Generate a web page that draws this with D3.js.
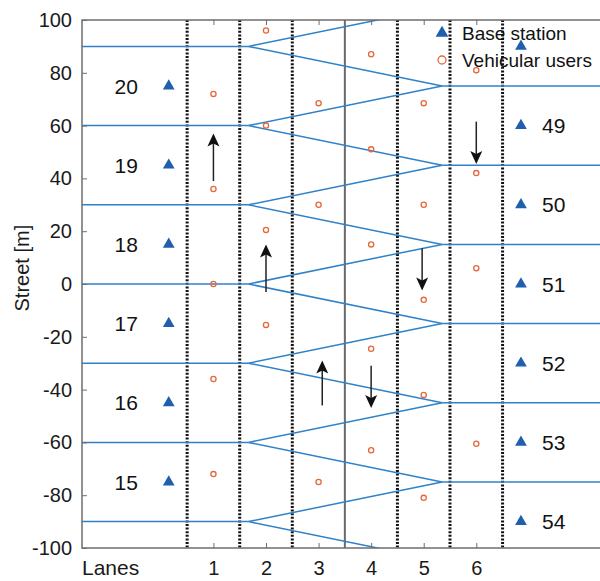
<!DOCTYPE html>
<html>
<head>
<meta charset="utf-8">
<script src="https://cdn.jsdelivr.net/npm/d3@7/dist/d3.min.js"></script>
<style>
  html, body { margin: 0; padding: 0; background: #fff; }
  svg { display: block; font-family: "Liberation Sans", Arial, sans-serif; }
</style>
</head>
<body>
<svg id="chart" width="600" height="581"></svg>
<script>
// Lane ticks along the bottom axis
const laneTicks = [1, 2, 3, 4, 5, 6];
const streetTicks = [100, 80, 60, 40, 20, 0, -20, -40, -60, -80, -100];

// Lane boundaries (dotted), and the median between the two directions (solid)
const laneBounds = [0.5, 1.5, 2.5, 4.5, 5.5, 6.5];
const medianLane = 3.5;

// Cell borders: left-side borders branch into the right-side borders
const leftBorders = [90, 60, 30, 0, -30, -60, -90];
const rightBorders = [75, 45, 15, -15, -45, -75];
const leftForkLane = 5 / 3;
const rightForkLane = 5.35;

// Base stations on each side of the road
const leftStationIds = [20, 19, 18, 17, 16, 15];
const leftStationStreet = [75, 45, 15, -15, -45, -75];
const rightStationIds = ["", 49, 50, 51, 52, 53, 54];
const rightStationStreet = [90, 60, 30, 0, -30, -60, -90];

// Vehicular users (lane, street position)
const userLane = [1, 1, 1, 1, 1,
                  2, 2, 2, 2,
                  3, 3, 3,
                  4, 4, 4, 4, 4,
                  5, 5, 5, 5, 5,
                  6, 6, 6, 6];
const userStreet = [72, 36, 0, -36, -72,
                    96, 60, 20.5, -15.5,
                    68.5, 30, -75,
                    87, 51, 15, -24.5, -63,
                    68.5, 30, -6, -42, -81,
                    81, 42, 6, -60.5];

// Driving-direction arrows
const arrowLane = [1, 2, 3.07, 4, 4.97, 6];
const arrowFrom = [39, -3, -46, -31, 13.5, 61.5];
const arrowTo = [57, 15, -29, -47, -2.5, 45.5];

const svg = d3.select("#chart");
const x = d3.scaleLinear().domain([-1.5, 9]).range([82, 634]);
const y = d3.scaleLinear().domain([-100, 100]).range([548, 20]);

const blue = "#2f82c8";
const markerBlue = "#1f5fae";
const orange = "#e4683c";
const hyphenFmt = d => String(d);

svg.append("defs").append("clipPath").attr("id", "plotClip")
  .append("rect")
  .attr("x", x(-1.5)).attr("y", y(100))
  .attr("width", x(9) - x(-1.5)).attr("height", y(-100) - y(100));

const plot = svg.append("g").attr("clip-path", "url(#plotClip)");

// Lane separators
plot.selectAll("line.lane").data(laneBounds).join("line")
  .attr("class", "lane")
  .attr("x1", d => x(d)).attr("x2", d => x(d))
  .attr("y1", y(100)).attr("y2", y(-100))
  .attr("stroke", "#111").attr("stroke-width", 3)
  .attr("stroke-dasharray", "2,1.6");

plot.append("line")
  .attr("x1", x(medianLane)).attr("x2", x(medianLane))
  .attr("y1", y(100)).attr("y2", y(-100))
  .attr("stroke", "#6a6a6a").attr("stroke-width", 2);

// Horizontal cell borders
plot.selectAll("line.lborder").data(leftBorders).join("line")
  .attr("class", "lborder")
  .attr("x1", x(-1.5)).attr("x2", x(leftForkLane))
  .attr("y1", d => y(d)).attr("y2", d => y(d))
  .attr("stroke", blue).attr("stroke-width", 1.5);

plot.selectAll("line.rborder").data(rightBorders).join("line")
  .attr("class", "rborder")
  .attr("x1", x(rightForkLane)).attr("x2", x(9))
  .attr("y1", d => y(d)).attr("y2", d => y(d))
  .attr("stroke", blue).attr("stroke-width", 1.5);

// Diagonal borders between the two sides
const diagonals = leftBorders.flatMap(v => [[v, v + 15], [v, v - 15]]);
plot.selectAll("line.diag").data(diagonals).join("line")
  .attr("class", "diag")
  .attr("x1", x(leftForkLane)).attr("x2", x(rightForkLane))
  .attr("y1", d => y(d[0])).attr("y2", d => y(d[1]))
  .attr("stroke", blue).attr("stroke-width", 1.5);

// Users
plot.selectAll("circle.user").data(userLane).join("circle")
  .attr("class", "user")
  .attr("cx", d => x(d)).attr("cy", (d, i) => y(userStreet[i]))
  .attr("r", 2.6).attr("fill", "none")
  .attr("stroke", orange).attr("stroke-width", 1.3);

// Base stations
const tri = d3.symbol().type(d3.symbolTriangle).size(60);
plot.selectAll("path.lstation").data(leftStationStreet).join("path")
  .attr("class", "lstation")
  .attr("transform", d => `translate(${x(0.15)},${y(d)})`)
  .attr("d", tri).attr("fill", markerBlue);
plot.selectAll("path.rstation").data(rightStationStreet).join("path")
  .attr("class", "rstation")
  .attr("transform", d => `translate(${x(6.85)},${y(d)})`)
  .attr("d", tri).attr("fill", markerBlue);

plot.selectAll("text.lid").data(leftStationIds).join("text")
  .attr("class", "lid")
  .attr("x", x(-0.66)).attr("y", (d, i) => y(leftStationStreet[i]))
  .attr("dy", "0.36em").attr("text-anchor", "middle")
  .attr("font-size", 21).attr("fill", "#111").text(d => d);
plot.selectAll("text.rid").data(rightStationIds).join("text")
  .attr("class", "rid")
  .attr("x", x(7.25)).attr("y", (d, i) => y(rightStationStreet[i]))
  .attr("dy", "0.36em").attr("text-anchor", "start")
  .attr("font-size", 21).attr("fill", "#111").text(d => d);

// Arrows
const arrows = plot.selectAll("g.arrow").data(arrowLane).join("g").attr("class", "arrow");
arrows.append("line")
  .attr("x1", d => x(d)).attr("x2", d => x(d))
  .attr("y1", (d, i) => y(arrowFrom[i]))
  .attr("y2", (d, i) => y(arrowTo[i]) + Math.sign(y(arrowFrom[i]) - y(arrowTo[i])) * 8)
  .attr("stroke", "#222").attr("stroke-width", 1.5);
arrows.append("path")
  .attr("d", (d, i) => {
    const tx = x(d), ty = y(arrowTo[i]);
    const s = Math.sign(y(arrowFrom[i]) - y(arrowTo[i]));
    return `M${tx},${ty} L${tx + 6},${ty + s * 13} L${tx},${ty + s * 10} L${tx - 6},${ty + s * 13} Z`;
  })
  .attr("fill", "#111");

// Axes frame
svg.append("rect")
  .attr("x", x(-1.5)).attr("y", y(100))
  .attr("width", x(9) - x(-1.5)).attr("height", y(-100) - y(100))
  .attr("fill", "none").attr("stroke", "#6e6e6e").attr("stroke-width", 1.5);

const yAxis = d3.axisLeft(y).tickValues(streetTicks).tickFormat(hyphenFmt)
  .tickSize(-5).tickPadding(10);
const gy = svg.append("g").attr("transform", `translate(${x(-1.5)},0)`).call(yAxis);
gy.select(".domain").remove();
gy.selectAll(".tick line").attr("stroke", "#6e6e6e");
gy.selectAll(".tick text").attr("font-size", 20).attr("fill", "#1a1a1a")
  .attr("font-family", "Liberation Sans, Arial, sans-serif");

const xAxis = d3.axisBottom(x).tickValues(laneTicks).tickFormat(hyphenFmt)
  .tickSize(-5).tickPadding(13);
const gx = svg.append("g").attr("transform", `translate(0,${y(-100)})`).call(xAxis);
gx.select(".domain").remove();
gx.selectAll(".tick line").attr("stroke", "#6e6e6e");
gx.selectAll(".tick text").attr("font-size", 20).attr("fill", "#1a1a1a")
  .attr("font-family", "Liberation Sans, Arial, sans-serif");

const xTop = d3.axisTop(x).tickValues(laneTicks).tickSize(-5).tickFormat("");
const gt = svg.append("g").attr("transform", `translate(0,${y(100)})`).call(xTop);
gt.select(".domain").remove();
gt.selectAll(".tick line").attr("stroke", "#6e6e6e");

svg.append("text")
  .attr("x", x(-1.5)).attr("y", 575)
  .attr("font-size", 21).attr("fill", "#1a1a1a").text("Lanes");

svg.append("text")
  .attr("transform", `translate(29,${y(6)}) rotate(-90)`)
  .attr("text-anchor", "middle")
  .attr("font-size", 20).attr("fill", "#1a1a1a").text("Street [m]");

// Legend
const legend = svg.append("g");
legend.append("path")
  .attr("transform", "translate(442,33)")
  .attr("d", d3.symbol().type(d3.symbolTriangle).size(70)).attr("fill", markerBlue);
legend.append("circle")
  .attr("cx", 442).attr("cy", 60).attr("r", 4)
  .attr("fill", "none").attr("stroke", orange).attr("stroke-width", 1.3);
legend.append("text").attr("x", 462).attr("y", 33).attr("dy", "0.36em")
  .attr("font-size", 19).attr("fill", "#111").text("Base station");
legend.append("text").attr("x", 462).attr("y", 60).attr("dy", "0.36em")
  .attr("font-size", 19).attr("fill", "#111").text("Vehicular users");
</script>
</body>
</html>
